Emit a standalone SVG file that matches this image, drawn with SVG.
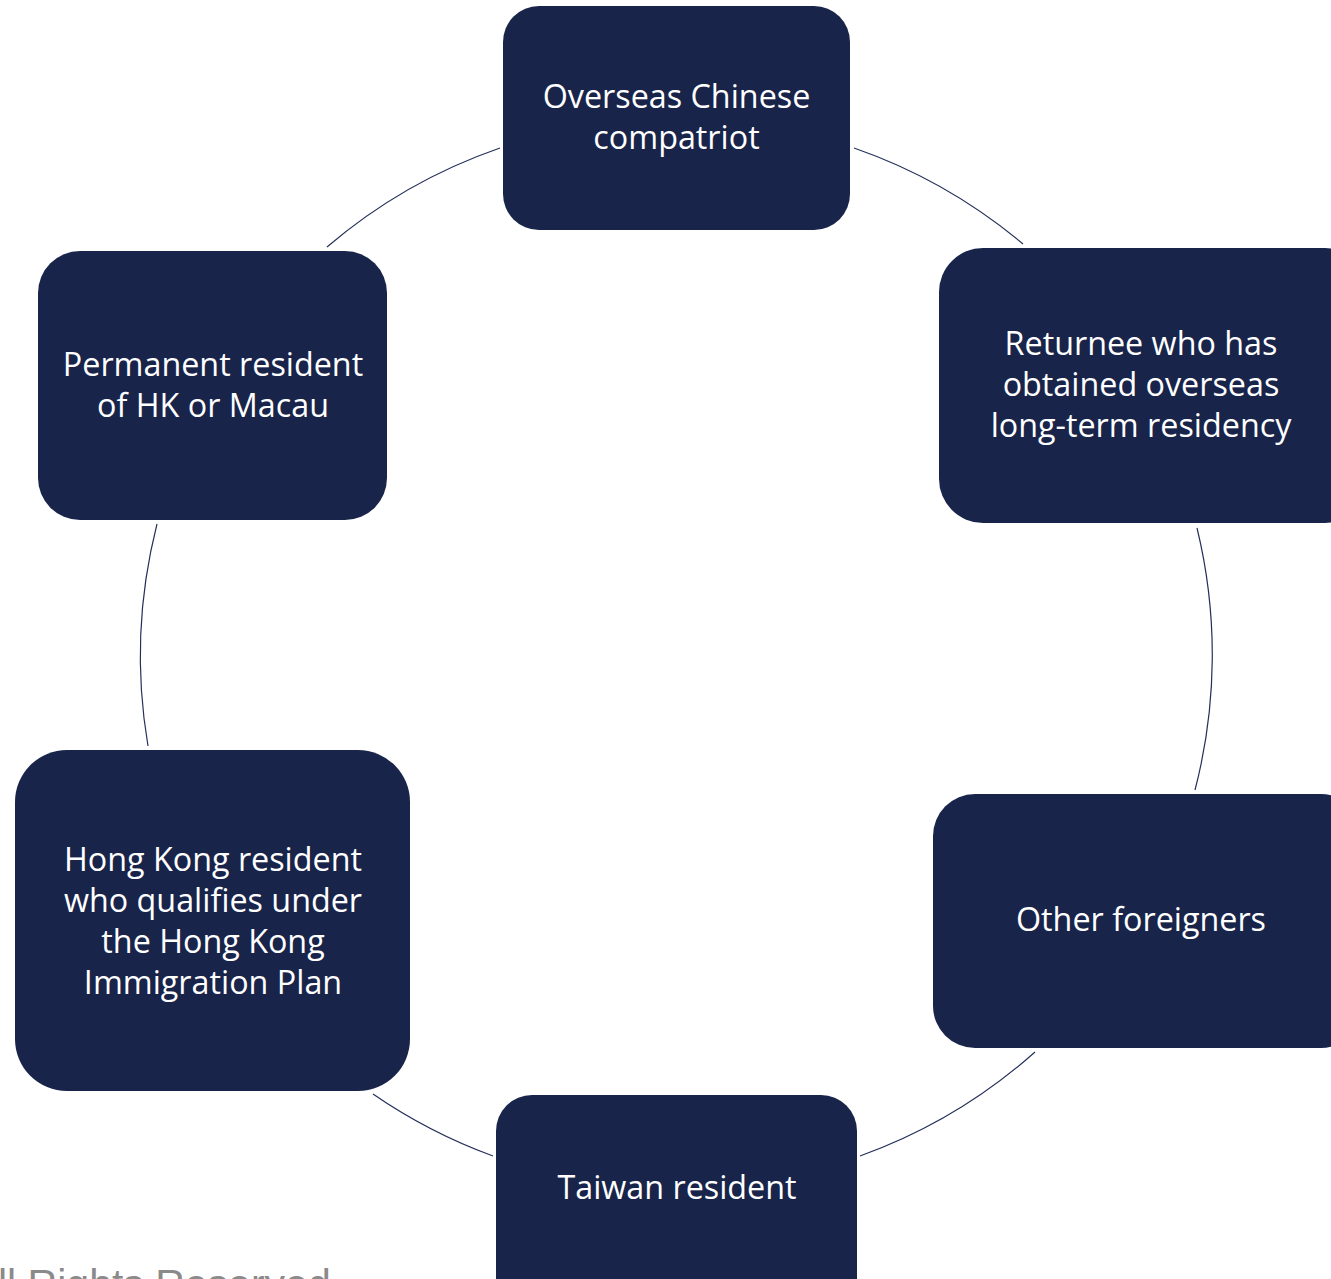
<svg xmlns="http://www.w3.org/2000/svg" width="1331" height="1279" viewBox="0 0 1331 1279">
<style>
.node rect{fill:#19244a;}
.node text{fill:#ffffff;font-family:"Open Sans","Liberation Sans",sans-serif;font-size:32.3px;text-anchor:middle;}
.conn path{fill:none;stroke:#25305a;stroke-width:1.2;}
.footer{fill:#8a8a8a;font-family:"Liberation Sans",Arial,sans-serif;font-size:41px;}
</style>
<rect x="0" y="0" width="1331" height="1279" fill="#ffffff"/>
<g class="conn" id="connectors">
<path d="M327,247 A535.5,535.5 0 0 1 500,148"/>
<path d="M854,148 A535.5,535.5 0 0 1 1023,244"/>
<path d="M1197,528 A535.5,535.5 0 0 1 1195,790"/>
<path d="M1035,1052 A535.5,535.5 0 0 1 860,1156"/>
<path d="M493,1156 A535.5,535.5 0 0 1 373,1094"/>
<path d="M148,746 A535.5,535.5 0 0 1 157,524"/>
</g>
<g class="node" id="node-overseas">
<rect x="503" y="6" width="347" height="224" rx="36"/>
<text x="676.5" y="108">Overseas Chinese</text>
<text x="676.5" y="149">compatriot</text>
</g>
<g class="node" id="node-returnee">
<rect x="939" y="248" width="430" height="275" rx="44"/>
<text x="1141" y="355">Returnee who has</text>
<text x="1141" y="396">obtained overseas</text>
<text x="1141" y="437">long-term residency</text>
</g>
<g class="node" id="node-foreigners">
<rect x="933" y="794" width="430" height="254" rx="42"/>
<text x="1141" y="931">Other foreigners</text>
</g>
<g class="node" id="node-taiwan">
<rect x="496" y="1095" width="361" height="230" rx="36"/>
<text x="677" y="1199">Taiwan resident</text>
</g>
<g class="node" id="node-hk-plan">
<rect x="15" y="750" width="395" height="341" rx="52"/>
<text x="213" y="871">Hong Kong resident</text>
<text x="213" y="912">who qualifies under</text>
<text x="213" y="953">the Hong Kong</text>
<text x="213" y="994">Immigration Plan</text>
</g>
<g class="node" id="node-hk-macau">
<rect x="38" y="251" width="349" height="269" rx="42"/>
<text x="213" y="376">Permanent resident</text>
<text x="213" y="417">of HK or Macau</text>
</g>
<text class="footer" x="-2" y="1298">ll Rights Reserved</text>
</svg>
